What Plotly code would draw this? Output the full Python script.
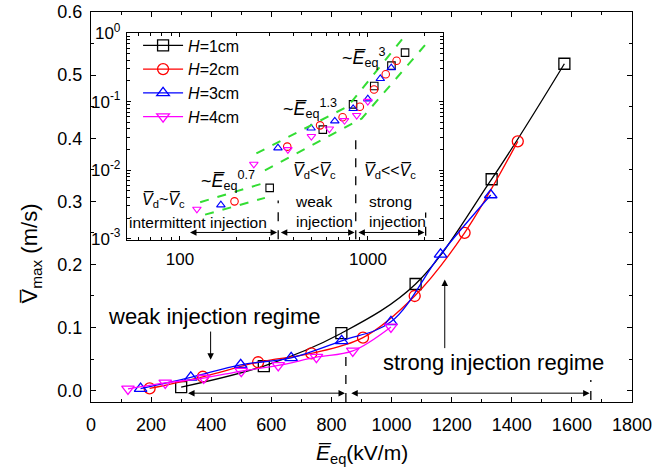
import numpy as np
import plotly.graph_objects as go

# ---------------- data ----------------
labels = ["<i>H</i>=1cm", "<i>H</i>=2cm", "<i>H</i>=3cm", "<i>H</i>=4cm"]
E_H1 = [300, 575, 833, 1080, 1333, 1575]
V_H1 = [0.0055, 0.039, 0.091, 0.169, 0.335, 0.518]
E_H2 = [195, 372, 556, 733, 905, 1077, 1243, 1420]
V_H2 = [0.0035, 0.022, 0.045, 0.059, 0.084, 0.150, 0.250, 0.395]
E_H3 = [165, 332, 498, 666, 834, 998, 1163, 1330]
V_H3 = [0.0031, 0.021, 0.041, 0.052, 0.079, 0.109, 0.216, 0.310]
E_H4 = [123, 247, 375, 500, 623, 750, 871, 998]
V_H4 = [0.0027, 0.0122, 0.020, 0.031, 0.040, 0.053, 0.063, 0.101]

# guide lines in the inset (power-law slopes 0.7, 1.3, 3)
guide07_up_E = [128, 289]
guide07_up_V = [0.0034, 0.00665]
guide07_lo_E = [136, 283]
guide07_lo_V = [0.00224, 0.00393]
guide_up_E = [255, 783, 1553]
guide_up_V = [0.0175, 0.0853, 0.874]
guide_lo_E = [283, 925, 2010]
guide_lo_V = [0.0099, 0.0564, 0.667]

# regime boundaries (main plot)
E_weak_start, E_boundary, E_strong_end = 318, 848, 1663
# regime boundaries (inset)
Ei_start, Ei_b1, Ei_b2, Ei_end = 111, 333, 861, 2027

xt_main = [0, 200, 400, 600, 800, 1000, 1200, 1400, 1600, 1800]
yt_main = [0.0, 0.1, 0.2, 0.3, 0.4, 0.5, 0.6]
xt_in = [100, 1000]
yt_in = [0.001, 0.01, 0.1, 1]
yt_in_text = ["10<sup>-3</sup>", "10<sup>-2</sup>", "10<sup>-1</sup>", "10<sup>0</sup>"]

colors = ["#000000", "#ff0000", "#0000ff", "#ff00ff"]
symbols = ["square-open", "circle-open", "triangle-up-open", "triangle-down-open"]
series = [(E_H1, V_H1), (E_H2, V_H2), (E_H3, V_H3), (E_H4, V_H4)]

FONT = "Arial, Liberation Sans, sans-serif"
GREEN = "#33dd33"

fig = go.Figure()

# main traces
for (E, V), lab, c, s in zip(series, labels, colors, symbols):
    fig.add_trace(go.Scatter(
        x=E, y=V, mode="lines+markers", name=lab,
        line=dict(color=c, width=1.3, shape="spline", smoothing=1.0),
        marker=dict(symbol=s, size=11, color=c, line=dict(width=1.3, color=c)),
        xaxis="x", yaxis="y"))

# inset traces
for (E, V), lab, c, s in zip(series, labels, colors, symbols):
    fig.add_trace(go.Scatter(
        x=E, y=V, mode="markers", showlegend=False,
        marker=dict(symbol=s, size=7.5, color=c, line=dict(width=1.1, color=c)),
        xaxis="x2", yaxis="y2"))

for gx, gy in [(guide07_up_E, guide07_up_V), (guide07_lo_E, guide07_lo_V),
               (guide_up_E, guide_up_V), (guide_lo_E, guide_lo_V)]:
    fig.add_trace(go.Scatter(x=gx, y=gy, mode="lines", showlegend=False,
                             line=dict(color=GREEN, width=2, dash="dash"),
                             xaxis="x2", yaxis="y2"))

# inset vertical dashed boundaries
for xe, y0, y1 in [(Ei_b1, 0.00098, 0.0036), (Ei_b2, 0.00098, 0.034), (Ei_end, 0.0011, 0.0024)]:
    fig.add_trace(go.Scatter(x=[xe, xe], y=[y0, y1], mode="lines", showlegend=False,
                             line=dict(color="black", width=1.3, dash="dash"),
                             xaxis="x2", yaxis="y2"))

# main vertical dashed boundaries
for xe, y0, y1 in [(E_boundary, -0.018, 0.055), (E_strong_end, -0.015, 0.017)]:
    fig.add_trace(go.Scatter(x=[xe, xe], y=[y0, y1], mode="lines", showlegend=False,
                             line=dict(color="black", width=1.3, dash="dash"),
                             xaxis="x", yaxis="y"))

ann = []
def arrow(x, y, ax, ay, xr, yr, both=False):
    d = dict(x=x, y=y, ax=ax, ay=ay, xref=xr, yref=yr, axref=xr, ayref=yr,
             text="", showarrow=True, arrowhead=2, arrowsize=1.3, arrowwidth=1,
             arrowcolor="black")
    if both:
        d.update(arrowside="end+start", startarrowhead=2, startarrowsize=1.3)
    return d

# main arrows
ay_main = -0.004
ann.append(arrow(E_boundary - 3, ay_main, E_weak_start, ay_main, "x", "y", both=True))
ann.append(arrow(E_strong_end - 4, ay_main, E_boundary + 13, ay_main, "x", "y", both=True))
ann.append(arrow(398, 0.049, 398, 0.096, "x", "y"))
ann.append(arrow(1177, 0.176, 1177, 0.065, "x", "y"))

# inset arrows (log coordinates)
L = np.log10
ay_in = L(0.00123)
ann.append(arrow(L(Ei_b1) - 0.006, ay_in, L(Ei_start), ay_in, "x2", "y2", both=True))
ann.append(arrow(L(Ei_b2) - 0.006, ay_in, L(Ei_b1) + 0.006, ay_in, "x2", "y2", both=True))
ann.append(arrow(L(Ei_end) - 0.006, ay_in, L(Ei_b2) + 0.006, ay_in, "x2", "y2", both=True))

def txt(text, x, y, xr, yr, size, xanchor="center", align="center"):
    return dict(text=text, x=x, y=y, xref=xr, yref=yr, showarrow=False,
                xanchor=xanchor, yanchor="middle", align=align,
                font=dict(family=FONT, size=size, color="black"))

ann.append(txt("weak injection regime", 412, 0.117, "x", "y", 22))
ann.append(txt("strong injection regime", 1339, 0.045, "x", "y", 22))

Eb = "<i>E\u0305</i><sub>eq</sub>"
ann.append(txt("~" + Eb + "<sup>3</sup>", 2.979, -0.351, "x2", "y2", 18))
ann.append(txt("~" + Eb + "<sup>1.3</sup>", 2.691, -1.098, "x2", "y2", 18))
ann.append(txt("~" + Eb + "<sup>0.7</sup>", 2.255, -2.152, "x2", "y2", 18))
Vd = "<i>V\u0305</i><sub>d</sub>"
Vc = "<i>V\u0305</i><sub>c</sub>"
ann.append(txt(Vd + "~" + Vc, 1.910, -2.445, "x2", "y2", 16))
ann.append(txt("intermittent injection", 2.096, -2.763, "x2", "y2", 15.5))
ann.append(txt(Vd + "&lt;" + Vc, 2.713, -2.020, "x2", "y2", 16))
ann.append(txt("weak<br>injection", 2.601, -2.605, "x2", "y2", 15.5, "left", "left"))
ann.append(txt(Vd + "&lt;&lt;" + Vc, 3.117, -2.020, "x2", "y2", 16))
ann.append(txt("strong<br>injection", 2.995, -2.605, "x2", "y2", 15.5, "left", "left"))

# axis titles
ann.append(dict(text="<i>E\u0305</i><sub>eq</sub>(kV/m)", x=0.5, y=-0.133, xref="paper",
                yref="paper", showarrow=False, xanchor="center", yanchor="middle",
                font=dict(family=FONT, size=21, color="black")))
ann.append(dict(text="V\u0305<sub>max</sub> (m/s)", x=-0.11, y=0.382, xref="paper",
                yref="paper", showarrow=False, xanchor="center", yanchor="middle",
                textangle=-90, font=dict(family=FONT, size=22, color="black")))

minor_in_y = [m * 10.0 ** k for k in (-3, -2, -1) for m in range(2, 10)]
minor_in_x = [m * 10.0 ** k for k in (1, 2, 3) for m in range(2, 10)]

axis_common = dict(showline=True, linecolor="black", linewidth=1.2, mirror="ticks",
                   ticks="inside", tickcolor="black", tickwidth=1, showgrid=False,
                   zeroline=False, automargin=False,
                   tickfont=dict(family=FONT, size=18, color="black"))

fig.update_layout(
    template="none",
    width=669, height=473,
    margin=dict(l=91, r=37, t=12, b=71, autoexpand=False),
    paper_bgcolor="white", plot_bgcolor="white",
    font=dict(family=FONT, color="black"),
    showlegend=True,
    legend=dict(x=0.087, y=0.958, xanchor="left", yanchor="top",
                bgcolor="rgba(0,0,0,0)", font=dict(family=FONT, size=16),
                tracegroupgap=0, itemwidth=40, borderwidth=0),
    xaxis=dict(range=[0, 1800], tickvals=xt_main, ticklen=5, ticklabelstandoff=6,
               minor=dict(dtick=100, ticks="inside", ticklen=3, tickcolor="black"),
               **axis_common),
    yaxis=dict(range=[-0.018, 0.6], tickvals=yt_main, tickformat=".1f", ticklen=5,
               ticklabelstandoff=4,
               minor=dict(dtick=0.05, ticks="inside", ticklen=3, tickcolor="black"),
               **axis_common),
    xaxis2=dict(type="log", range=[1.718, 3.399], domain=[0.0665, 0.6506], anchor="y2",
                tickvals=xt_in, ticktext=["100", "1000"], ticklen=4, ticklabelstandoff=4,
                minor=dict(tickvals=minor_in_x, ticks="inside", ticklen=2.5, tickcolor="black"),
                **{**axis_common, "tickfont": dict(family=FONT, size=17, color="black")}),
    yaxis2=dict(type="log", range=[-3.02, 0], domain=[0.4154, 0.946], anchor="x2",
                tickvals=yt_in, ticktext=yt_in_text, ticklen=4, ticklabelstandoff=2,
                minor=dict(tickvals=minor_in_y, ticks="inside", ticklen=2.5, tickcolor="black"),
                **{**axis_common, "tickfont": dict(family=FONT, size=17, color="black")}),
    annotations=ann,
)

# remove the default 8px page margin so the figure fills the window exactly
fig.write_html("out.html", config={"displayModeBar": False},
               post_script="document.body.style.margin='0px';")
